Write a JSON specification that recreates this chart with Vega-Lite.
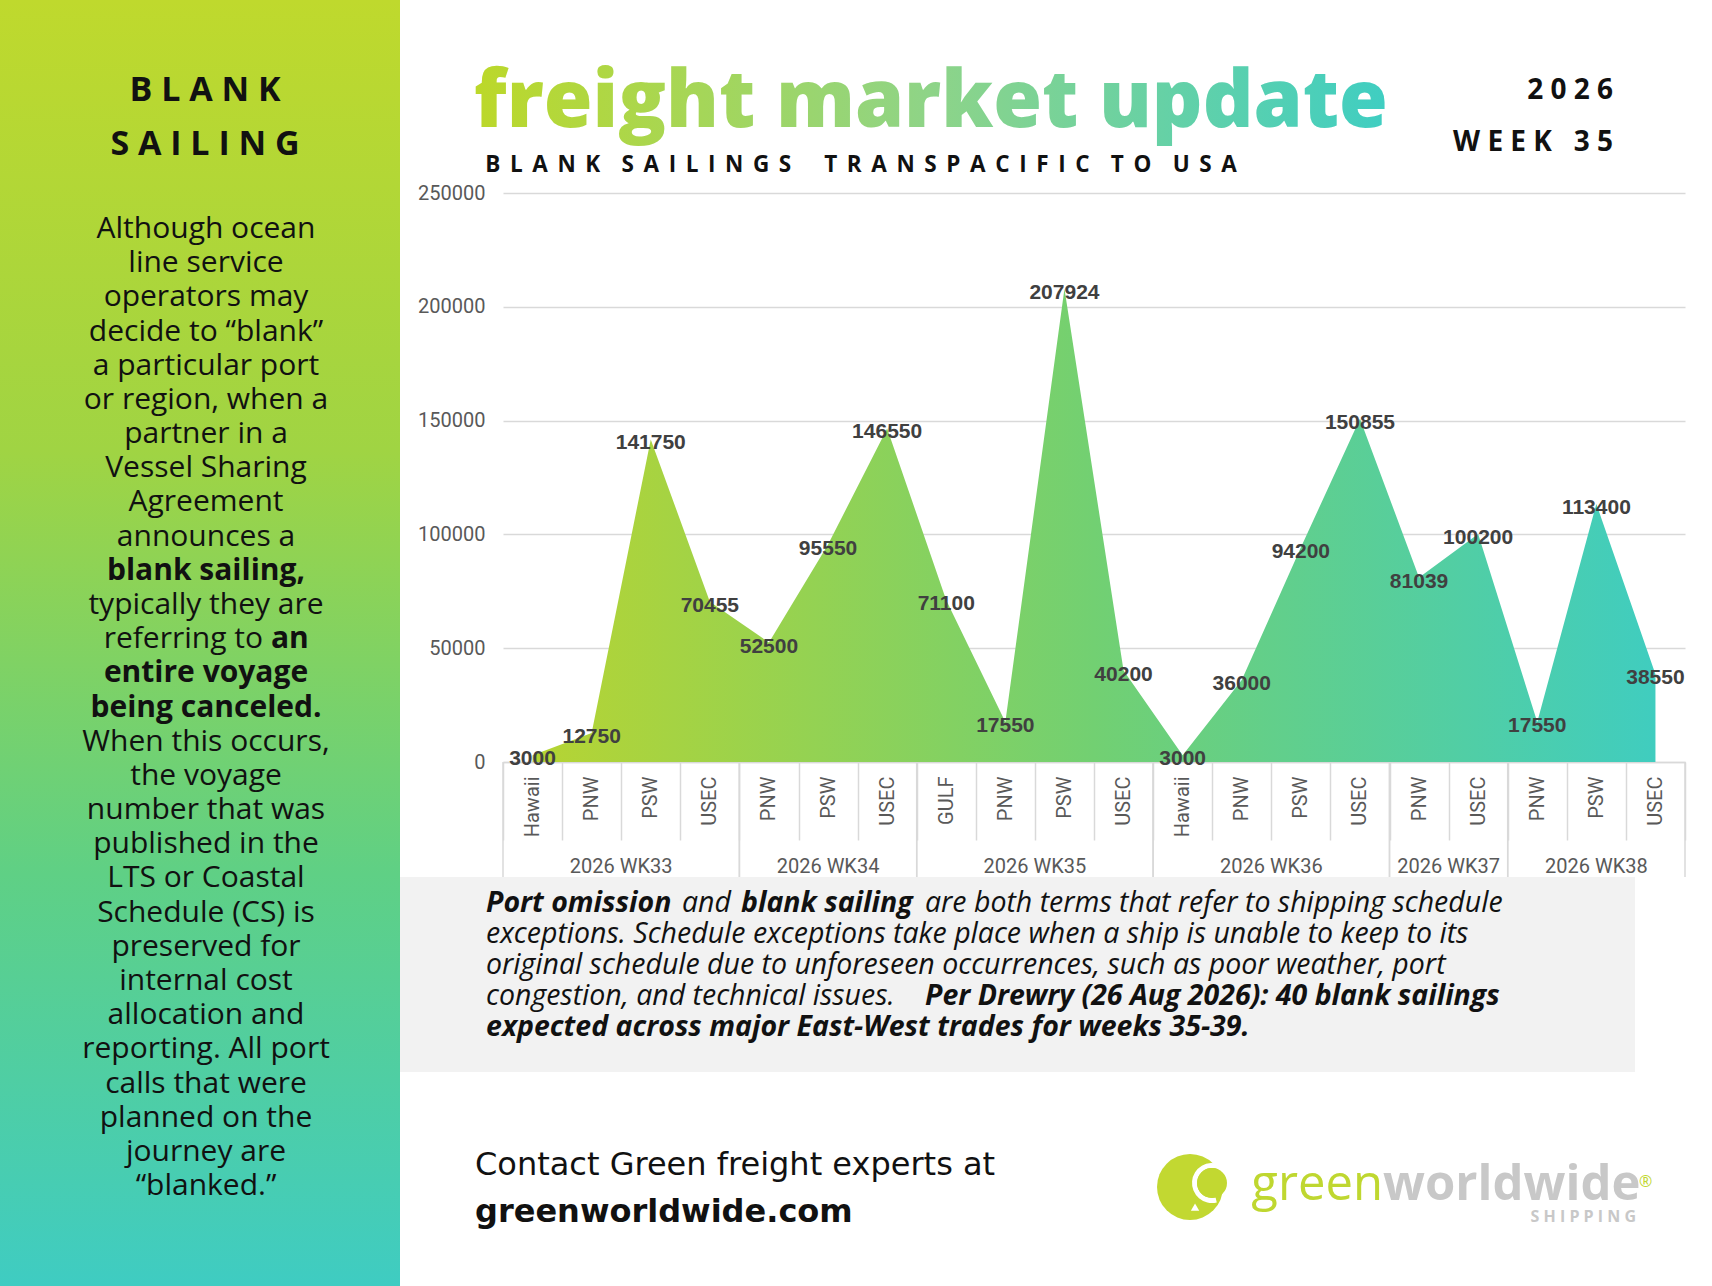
{
  "$schema": "https://vega.github.io/schema/vega-lite/v6.json",
  "padding": 0,
  "background": "white",
  "config": {"view": {"stroke": null}, "concat": {"spacing": 0}, "font": "Open Sans"},
  "datasets": {
    "lanes": [
      {"week": "2026 WK33", "port": "Hawaii", "teu": 3000},
      {"week": "2026 WK33", "port": "PNW", "teu": 12750},
      {"week": "2026 WK33", "port": "PSW", "teu": 141750},
      {"week": "2026 WK33", "port": "USEC", "teu": 70455},
      {"week": "2026 WK34", "port": "PNW", "teu": 52500},
      {"week": "2026 WK34", "port": "PSW", "teu": 95550},
      {"week": "2026 WK34", "port": "USEC", "teu": 146550},
      {"week": "2026 WK35", "port": "GULF", "teu": 71100},
      {"week": "2026 WK35", "port": "PNW", "teu": 17550},
      {"week": "2026 WK35", "port": "PSW", "teu": 207924},
      {"week": "2026 WK35", "port": "USEC", "teu": 40200},
      {"week": "2026 WK36", "port": "Hawaii", "teu": 3000},
      {"week": "2026 WK36", "port": "PNW", "teu": 36000},
      {"week": "2026 WK36", "port": "PSW", "teu": 94200},
      {"week": "2026 WK36", "port": "USEC", "teu": 150855},
      {"week": "2026 WK37", "port": "PNW", "teu": 81039},
      {"week": "2026 WK37", "port": "USEC", "teu": 100200},
      {"week": "2026 WK38", "port": "PNW", "teu": 17550},
      {"week": "2026 WK38", "port": "PSW", "teu": 113400},
      {"week": "2026 WK38", "port": "USEC", "teu": 38550}
    ],
    "para": [
      {"row": 1, "text": "Although ocean"},
      {"row": 2, "text": "line service"},
      {"row": 3, "text": "operators may"},
      {"row": 4, "text": "decide to “blank”"},
      {"row": 5, "text": "a particular port"},
      {"row": 6, "text": "or region, when a"},
      {"row": 7, "text": "partner in a"},
      {"row": 8, "text": "Vessel Sharing"},
      {"row": 9, "text": "Agreement"},
      {"row": 10, "text": "announces a"},
      {"row": 12, "text": "typically they are"},
      {"row": 13, "text": "referring to"},
      {"row": 16, "text": "When this occurs,"},
      {"row": 17, "text": "the voyage"},
      {"row": 18, "text": "number that was"},
      {"row": 19, "text": "published in the"},
      {"row": 20, "text": "LTS or Coastal"},
      {"row": 21, "text": "Schedule (CS) is"},
      {"row": 22, "text": "preserved for"},
      {"row": 23, "text": "internal cost"},
      {"row": 24, "text": "allocation and"},
      {"row": 25, "text": "reporting. All port"},
      {"row": 26, "text": "calls that were"},
      {"row": 27, "text": "planned on the"},
      {"row": 28, "text": "journey are"},
      {"row": 29, "text": "“blanked.”"}
    ],
    "paraStrong": [
      {"row": 11, "text": "blank sailing,"},
      {"row": 13, "text": "an"},
      {"row": 14, "text": "entire voyage"},
      {"row": 15, "text": "being canceled."}
    ],
    "note": [
      {"line": 1, "seg": 2, "text": "and"},
      {"line": 1, "seg": 4, "text": "are both terms that refer to shipping schedule"},
      {"line": 2, "seg": 1, "text": "exceptions. Schedule exceptions take place when a ship is unable to keep to its"},
      {"line": 3, "seg": 1, "text": "original schedule due to unforeseen occurrences, such as poor weather, port"},
      {"line": 4, "seg": 1, "text": "congestion, and technical issues."}
    ],
    "noteStrong": [
      {"line": 1, "seg": 1, "text": "Port omission"},
      {"line": 1, "seg": 3, "text": "blank sailing"},
      {"line": 4, "seg": 2, "text": "Per Drewry (26 Aug 2026): 40 blank sailings"},
      {"line": 5, "seg": 1, "text": "expected across major East-West trades for weeks 35-39."}
    ]
  },
  "bounds": "flush",
  "spacing": 0,
  "hconcat": [
    {
      "width": 400,
      "height": 1286,
      "title": {
        "text": ["B L A N K", "S A I L I N G"],
        "orient": "top",
        "anchor": "middle",
        "frame": "group",
        "align": "center",
        "baseline": "top",
        "offset": -162,
        "dx": 5,
        "font": "Open Sans",
        "fontSize": 34,
        "fontWeight": "bold",
        "lineHeight": 54,
        "color": "#111111"
      },
      "layer": [
        {
          "data": {"values": [{}]},
          "mark": {
            "type": "rect",
            "color": {
              "gradient": "linear",
              "x1": 0, "y1": 0, "x2": 0, "y2": 1,
              "stops": [
                {"offset": 0, "color": "#bfd92d"},
                {"offset": 0.35, "color": "#a0d443"},
                {"offset": 0.68, "color": "#5fd085"},
                {"offset": 1, "color": "#3fccc2"}
              ]
            }
          },
          "encoding": {}
        },
        {
          "encoding": {
            "y": {
              "field": "row",
              "type": "quantitative",
              "scale": {"domain": [-5.963, 31.66], "reverse": true, "nice": false, "zero": false},
              "axis": null
            },
            "text": {"field": "text"}
          },
          "layer": [
            {
              "data": {"name": "para"},
              "transform": [{"filter": "datum.row != 13"}],
              "mark": {"type": "text", "font": "Open Sans", "fontSize": 30, "color": "#111111", "baseline": "alphabetic", "dx": 6}
            },
            {
              "data": {"name": "para"},
              "transform": [{"filter": "datum.row == 13"}],
              "mark": {"type": "text", "font": "Open Sans", "fontSize": 30, "color": "#111111", "baseline": "alphabetic", "align": "right", "dx": 63}
            },
            {
              "data": {"name": "paraStrong"},
              "transform": [{"filter": "datum.row != 13"}],
              "mark": {"type": "text", "font": "Open Sans", "fontSize": 30, "fontWeight": "bold", "color": "#111111", "baseline": "alphabetic", "dx": 6}
            },
            {
              "data": {"name": "paraStrong"},
              "transform": [{"filter": "datum.row == 13"}],
              "mark": {"type": "text", "font": "Open Sans", "fontSize": 30, "fontWeight": "bold", "color": "#111111", "baseline": "alphabetic", "align": "left", "dx": 71}
            }
          ]
        }
      ]
    },
    {
      "bounds": "flush",
      "spacing": 0,
      "vconcat": [
        {
          "width": 1312,
          "height": 193,
          "data": {"values": [{}]},
          "mark": {"type": "text", "text": ""},
          "encoding": {},
          "title": {
            "text": ["2 0 2 6", "W E E K \u00a0 3 5"],
            "orient": "top",
            "anchor": "end",
            "frame": "group",
            "align": "right",
            "baseline": "top",
            "offset": -157,
            "dx": -99,
            "font": "Open Sans",
            "fontSize": 28,
            "fontWeight": "bold",
            "lineHeight": 52,
            "color": "#111111"
          }
        },
        {
          "bounds": "flush",
          "spacing": 0,
          "hconcat": [
            {
              "width": 103,
              "height": 684,
              "data": {"values": [{}]},
              "mark": {"type": "text", "text": ""},
              "encoding": {}
            },
            {
              "bounds": "flush",
              "spacing": 0,
              "vconcat": [
                {
                  "width": 1182,
                  "height": 569,
                  "title": {
                    "text": "freight market update",
                    "subtitle": "\u200b\u2002B \u2006L \u2006A \u2006N \u2006K \u2006\u00a0\u00a0S \u2006A \u2006I \u2006L \u2006I \u2006N \u2006G \u2006S \u2006\u00a0\u00a0\u00a0\u00a0T \u2006R \u2006A \u2006N \u2006S \u2006P \u2006A \u2006C \u2006I \u2006F \u2006I \u2006C \u2006\u00a0\u00a0T \u2006O \u2006\u00a0\u00a0U \u2006S \u2006A",
                    "orient": "top",
                    "anchor": "start",
                    "frame": "group",
                    "align": "left",
                    "baseline": "top",
                    "offset": 6,
                    "dx": -29,
                    "font": "Open Sans",
                    "fontSize": 79,
                    "fontWeight": 800,
                    "color": {
                      "value": {
                        "gradient": "linear",
                        "x1": 0, "y1": 0, "x2": 1, "y2": 0,
                        "stops": [
                          {"offset": 0, "color": "#bcd829"},
                          {"offset": 0.5, "color": "#8ed488"},
                          {"offset": 1, "color": "#3fcec2"}
                        ]
                      }
                    },
                    "subtitleFont": "Open Sans",
                    "subtitleFontSize": 22.5,
                    "subtitleFontWeight": "bold",
                    "subtitleColor": "#111111",
                    "subtitlePadding": 10
                  },
                  "data": {"name": "lanes"},
                  "transform": [{"calculate": "datum.week + '|' + datum.port", "as": "slot"}],
                  "encoding": {
                    "x": {
                      "field": "slot",
                      "type": "nominal",
                      "sort": null,
                      "bandPosition": 0.5,
                      "scale": {"type": "band", "paddingInner": 0, "paddingOuter": 0},
                      "axis": {
                        "title": null,
                        "labelAngle": -90,
                        "labelAlign": "right",
                        "labelBaseline": "middle",
                        "labelExpr": "split(datum.label, '|')[1]",
                        "labelFont": "Roboto",
                        "labelFontSize": 20,
                        "labelColor": "#595959",
                        "labelPadding": -64,
                        "labelOverlap": false,
                        "labelBound": false,
                        "tickBand": "extent",
                        "tickExtra": true,
                        "tickSize": 78,
                        "tickColor": "#d9d9d9",
                        "tickWidth": 1.5,
                        "domainColor": "#d9d9d9",
                        "domainWidth": 1.5,
                        "grid": false
                      }
                    },
                    "y": {
                      "field": "teu",
                      "type": "quantitative",
                      "scale": {"domain": [0, 250000], "nice": false},
                      "axis": {
                        "title": null,
                        "tickCount": 5,
                        "format": "d",
                        "domain": false,
                        "ticks": false,
                        "labelFont": "Roboto",
                        "labelFontSize": 20,
                        "labelColor": "#595959",
                        "labelPadding": 18,
                        "gridColor": "#d9d9d9",
                        "gridWidth": 1.5
                      }
                    }
                  },
                  "layer": [
                    {
                      "mark": {
                        "type": "area",
                        "color": {
                          "gradient": "linear",
                          "x1": 0, "y1": 0, "x2": 1, "y2": 0,
                          "stops": [
                            {"offset": 0, "color": "#b6d433"},
                            {"offset": 0.5, "color": "#72d072"},
                            {"offset": 1, "color": "#40cdbf"}
                          ]
                        },
                        "opacity": 1
                      }
                    },
                    {
                      "mark": {"type": "text", "font": "Liberation Sans", "fontSize": 21, "fontWeight": "bold", "color": "#404040", "dy": 4},
                      "encoding": {"text": {"field": "teu", "type": "quantitative", "format": "d"}}
                    }
                  ]
                },
                {
                  "width": 1182,
                  "height": 115,
                  "data": {"name": "lanes"},
                  "transform": [
                    {"window": [{"op": "row_number", "as": "n"}]},
                    {"aggregate": [{"op": "min", "field": "n", "as": "lo"}, {"op": "max", "field": "n", "as": "hi"}], "groupby": ["week"]},
                    {"calculate": "datum.lo - 1", "as": "start"},
                    {"calculate": "(datum.lo - 1 + datum.hi) / 2", "as": "mid"}
                  ],
                  "layer": [
                    {
                      "mark": {"type": "rule", "color": "#d9d9d9", "strokeWidth": 1.5},
                      "encoding": {"x": {"field": "start", "type": "quantitative", "scale": {"nice": false, "zero": true}, "axis": null}}
                    },
                    {
                      "mark": {"type": "rule", "color": "#d9d9d9", "strokeWidth": 1.5},
                      "encoding": {"x": {"field": "hi", "type": "quantitative", "axis": null}}
                    },
                    {
                      "mark": {"type": "text", "font": "Roboto", "fontSize": 20, "color": "#595959", "baseline": "middle", "dy": 47},
                      "encoding": {
                        "x": {"field": "mid", "type": "quantitative", "axis": null},
                        "text": {"field": "week"}
                      }
                    }
                  ]
                }
              ]
            }
          ]
        },
        {
          "width": 1312,
          "height": 684,
          "data": {"values": [{}]},
          "mark": {"type": "text", "text": ""},
          "encoding": {}
        },
        {
          "width": 1235,
          "height": 195,
          "layer": [
            {
              "data": {"values": [{}]},
              "mark": {"type": "rect", "color": "#f2f2f2"},
              "encoding": {}
            },
            {
              "encoding": {
                "x": {"value": 86},
                "y": {
                  "field": "line",
                  "type": "quantitative",
                  "scale": {"domain": [-0.129, 6.161], "reverse": true, "nice": false, "zero": false},
                  "axis": null
                },
                "text": {"field": "text"}
              },
              "layer": [
                {
                  "data": {"name": "note"},
                  "transform": [{"filter": "datum.seg == 1"}],
                  "mark": {"type": "text", "align": "left", "baseline": "alphabetic", "font": "Open Sans", "fontSize": 28.5, "fontStyle": "italic", "color": "#111111"}
                },
                {
                  "data": {"name": "note"},
                  "transform": [{"filter": "datum.seg == 2"}],
                  "mark": {"type": "text", "align": "left", "baseline": "alphabetic", "font": "Open Sans", "fontSize": 28.5, "fontStyle": "italic", "color": "#111111", "dx": 196}
                },
                {
                  "data": {"name": "note"},
                  "transform": [{"filter": "datum.seg == 4"}],
                  "mark": {"type": "text", "align": "left", "baseline": "alphabetic", "font": "Open Sans", "fontSize": 28.5, "fontStyle": "italic", "color": "#111111", "dx": 439}
                },
                {
                  "data": {"name": "noteStrong"},
                  "transform": [{"filter": "datum.seg == 1"}],
                  "mark": {"type": "text", "align": "left", "baseline": "alphabetic", "font": "Open Sans", "fontSize": 28.5, "fontStyle": "italic", "fontWeight": "bold", "color": "#111111"}
                },
                {
                  "data": {"name": "noteStrong"},
                  "transform": [{"filter": "datum.seg == 3"}],
                  "mark": {"type": "text", "align": "left", "baseline": "alphabetic", "font": "Open Sans", "fontSize": 28.5, "fontStyle": "italic", "fontWeight": "bold", "color": "#111111", "dx": 255}
                },
                {
                  "data": {"name": "noteStrong"},
                  "transform": [{"filter": "datum.seg == 2"}],
                  "mark": {"type": "text", "align": "left", "baseline": "alphabetic", "font": "Open Sans", "fontSize": 28.5, "fontStyle": "italic", "fontWeight": "bold", "color": "#111111", "dx": 439}
                }
              ]
            }
          ]
        },
        {
          "bounds": "flush",
          "spacing": 0,
          "hconcat": [
            {
              "width": 759,
              "height": 214,
              "data": {"values": [{}]},
              "mark": {"type": "text", "text": ""},
              "encoding": {},
              "title": {
                "text": "Contact Green freight experts at",
                "subtitle": "greenworldwide.com",
                "orient": "top",
                "anchor": "start",
                "frame": "group",
                "align": "left",
                "baseline": "top",
                "offset": -157,
                "dx": 75,
                "font": "DejaVu Sans",
                "fontSize": 32,
                "fontWeight": "normal",
                "color": "#111111",
                "subtitleFont": "DejaVu Sans",
                "subtitleFontSize": 32,
                "subtitleFontWeight": "bold",
                "subtitleColor": "#111111",
                "subtitlePadding": 15
              }
            },
            {
              "width": 70,
              "height": 214,
              "data": {"values": [{}]},
              "layer": [
                {
                  "mark": {"type": "arc", "theta": 0, "theta2": 6.2832, "radius": 33, "radius2": 0, "color": "#c2d831", "xOffset": -4, "yOffset": 8},
                  "encoding": {}
                },
                {
                  "mark": {"type": "arc", "theta": 2.9, "theta2": 6.7, "radius": 20, "radius2": 15, "color": "#ffffff", "xOffset": 18, "yOffset": 4},
                  "encoding": {}
                },
                {
                  "mark": {"type": "arc", "theta": 0, "theta2": 6.2832, "radius": 15, "radius2": 0, "color": "#c2d831", "xOffset": 18, "yOffset": 4},
                  "encoding": {}
                },
                {
                  "mark": {"type": "point", "shape": "triangle-left", "filled": true, "size": 70, "angle": -30, "color": "#ffffff", "opacity": 1, "xOffset": 0, "yOffset": 30},
                  "encoding": {}
                }
              ]
            },
            {
              "width": 308,
              "height": 214,
              "data": {"values": [{}]},
              "layer": [
                {
                  "mark": {"type": "text", "text": "green", "align": "right", "baseline": "alphabetic", "dy": 21, "font": "Open Sans", "fontSize": 49, "color": "#bfd730"},
                  "encoding": {}
                },
                {
                  "mark": {"type": "text", "text": "worldwide", "align": "left", "baseline": "alphabetic", "dy": 21, "font": "Open Sans", "fontSize": 49, "fontWeight": "bold", "color": "#c8c8c8"},
                  "encoding": {}
                },
                {
                  "mark": {"type": "text", "text": "®", "align": "left", "baseline": "middle", "dx": 256, "dy": 3, "font": "Open Sans", "fontSize": 16, "color": "#bfd730"},
                  "encoding": {}
                },
                {
                  "mark": {"type": "text", "text": "S H I P P I N G", "align": "right", "baseline": "middle", "dx": 253, "dy": 38, "font": "Open Sans", "fontSize": 16, "fontWeight": "bold", "color": "#c8c8c8"},
                  "encoding": {}
                }
              ]
            }
          ]
        }
      ]
    }
  ]
}
